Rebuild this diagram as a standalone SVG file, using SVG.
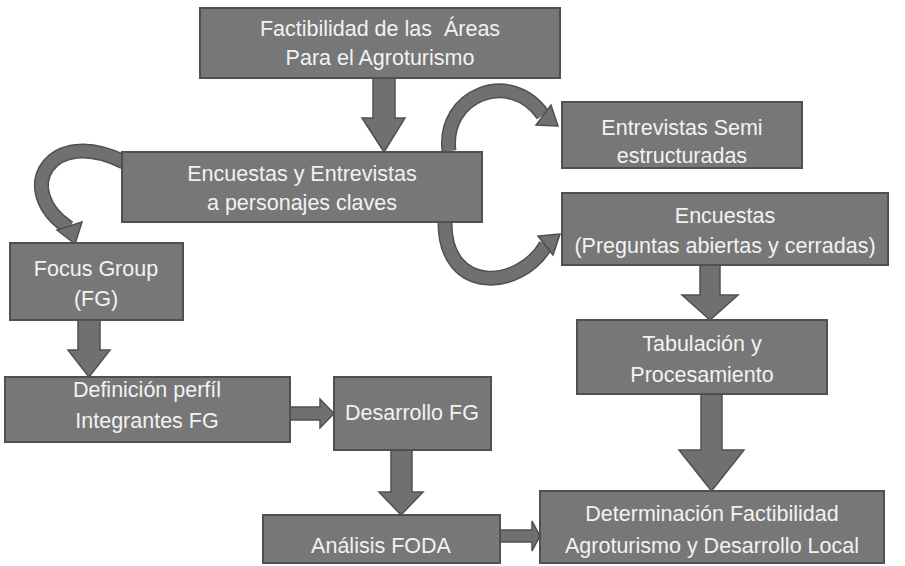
<svg xmlns="http://www.w3.org/2000/svg" width="905" height="566" viewBox="0 0 905 566">
<style>
.box{fill:#777777;stroke:#505050;stroke-width:2}
.t{font-family:"Liberation Sans",Arial,sans-serif;font-size:21.5px;fill:#f2f2f2;text-anchor:middle}
.ar{fill:#707070;stroke:#505050;stroke-width:1.5;stroke-linejoin:miter}
.co{fill:none;stroke:#505050;stroke-width:15}
.ci{fill:none;stroke:#707070;stroke-width:12}
</style>
<rect width="905" height="566" fill="#ffffff"/>
<g id="connectors">
<polygon class="ar" points="373,78 395,78 395,118 405,118 384,152 362,118 373,118"/>
<polygon class="ar" points="78,320 100,320 100,350 110,350 89,377 68,350 78,350"/>
<polygon class="ar" points="290,407 320,407 320,399 334,413.5 320,428 320,420 290,420"/>
<polygon class="ar" points="391,450 412,450 412,492 423,492 401,515 379,492 391,492"/>
<polygon class="ar" points="500,530 532,530 532,521 540,536 532,551 532,542 500,542"/>
<polygon class="ar" points="700,265 720,265 720,295 738,295 710,320 682,295 700,295"/>
<polygon class="ar" points="701,394 722,394 722,450 744,450 711.5,491 679,450 701,450"/>
<path class="co" d="M449,151 C442,95 510,68 543,115"/>
<path class="ci" d="M449,151 C442,95 510,68 543,115"/>
<polygon class="ar" points="558,126 536,125 551,105"/>
<path class="co" d="M445,223 C445,295 520,290 546,245"/>
<path class="ci" d="M445,223 C445,295 520,290 546,245"/>
<polygon class="ar" points="560,234 538,236 553,255"/>
<path class="co" d="M124,162 C50,125 12,190 69,228"/>
<path class="ci" d="M124,162 C50,125 12,190 69,228"/>
<polygon class="ar" points="75,244 57,230 82,222"/>
</g>
<g id="n1"><rect class="box" x="200" y="8" width="360" height="70"/>
<text class="t" x="380" y="36" style="white-space:pre">Factibilidad de las  Áreas</text>
<text class="t" x="380" y="65">Para el Agroturismo</text></g>
<g id="n2"><rect class="box" x="562" y="102" width="240" height="66"/>
<text class="t" x="682" y="135">Entrevistas Semi</text>
<text class="t" x="682" y="163">estructuradas</text></g>
<g id="n3"><rect class="box" x="122" y="152" width="360" height="70"/>
<text class="t" x="302" y="181">Encuestas y Entrevistas</text>
<text class="t" x="302" y="210">a personajes claves</text></g>
<g id="n4"><rect class="box" x="562" y="193" width="326" height="72"/>
<text class="t" x="725" y="223">Encuestas</text>
<text class="t" x="725" y="253">(Preguntas abiertas y cerradas)</text></g>
<g id="n5"><rect class="box" x="10" y="243" width="173" height="77"/>
<text class="t" x="96" y="276">Focus Group</text>
<text class="t" x="96" y="306">(FG)</text></g>
<g id="n6"><rect class="box" x="577" y="320" width="250" height="74"/>
<text class="t" x="702" y="351">Tabulación y</text>
<text class="t" x="702" y="382">Procesamiento</text></g>
<g id="n7"><rect class="box" x="5" y="377" width="285" height="65"/>
<text class="t" x="147" y="397">Definición perfíl</text>
<text class="t" x="147" y="428">Integrantes FG</text></g>
<g id="n8"><rect class="box" x="334" y="377" width="157" height="73"/>
<text class="t" x="412" y="420">Desarrollo FG</text></g>
<g id="n9"><rect class="box" x="263" y="515" width="237" height="48"/>
<text class="t" x="381" y="553">Análisis FODA</text></g>
<g id="n10"><rect class="box" x="540" y="491" width="344" height="72"/>
<text class="t" x="712" y="521">Determinación Factibilidad</text>
<text class="t" x="712" y="553">Agroturismo y Desarrollo Local</text></g>
</svg>
